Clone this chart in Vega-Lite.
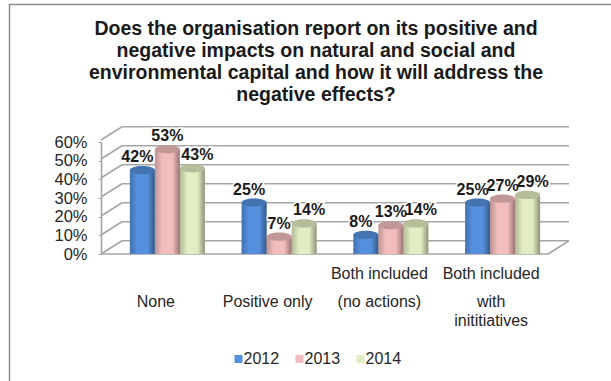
{
  "$schema": "https://vega.github.io/schema/vega-lite/v6.json",
  "width": 447,
  "height": 114,
  "autosize": "none",
  "padding": {"left": 111.5, "top": 140, "right": 52.5, "bottom": 127},
  "background": "white",
  "title": {
    "text": ["Does the organisation report on its positive and", "negative impacts on natural and social and", "environmental capital and how it will address the", "negative effects?"],
    "font": "Liberation Sans", "fontSize": 19.5, "fontWeight": "bold", "color": "#1a1a1a",
    "lineHeight": 22, "anchor": "middle", "frame": "group", "dx": -19, "offset": -121, "baseline": "bottom"
  },
  "datasets": {
    "results": [
      {"category": "None", "year": "2012", "share": 0.42},
      {"category": "None", "year": "2013", "share": 0.53},
      {"category": "None", "year": "2014", "share": 0.43},
      {"category": "Positive only", "year": "2012", "share": 0.25},
      {"category": "Positive only", "year": "2013", "share": 0.07},
      {"category": "Positive only", "year": "2014", "share": 0.14},
      {"category": "Both included (no actions)", "year": "2012", "share": 0.08},
      {"category": "Both included (no actions)", "year": "2013", "share": 0.13},
      {"category": "Both included (no actions)", "year": "2014", "share": 0.14},
      {"category": "Both included with inititiatives", "year": "2012", "share": 0.25},
      {"category": "Both included with inititiatives", "year": "2013", "share": 0.27},
      {"category": "Both included with inititiatives", "year": "2014", "share": 0.29}
    ],
    "captions": [
      {"category": "Both included (no actions)", "line": "Both included", "row": "upper"},
      {"category": "Both included with inititiatives", "line": "Both included", "row": "upper"},
      {"category": "None", "line": "None", "row": "middle"},
      {"category": "Positive only", "line": "Positive only", "row": "middle"},
      {"category": "Both included (no actions)", "line": "(no actions)", "row": "middle"},
      {"category": "Both included with inititiatives", "line": "with", "row": "middle"},
      {"category": "Both included with inititiatives", "line": "inititiatives", "row": "lower"}
    ],
    "ticks": [{"tick": 0}, {"tick": 0.1}, {"tick": 0.2}, {"tick": 0.3}, {"tick": 0.4}, {"tick": 0.5}, {"tick": 0.6}]
  },
  "resolve": {"scale": {"x": "independent", "y": "independent"}},
  "layer": [
    {
      "data": {"values": [{"edge": "top"}]},
      "layer": [
        {
          "mark": {"type": "rule", "color": "#8c8c8c", "strokeWidth": 1.5},
          "encoding": {"x": {"value": -102}, "x2": {"value": -102}, "y": {"value": -136}, "y2": {"value": 241}}
        },
        {
          "mark": {"type": "rule", "color": "#8c8c8c", "strokeWidth": 1.5},
          "encoding": {"x": {"value": -102}, "x2": {"value": 500}, "y": {"value": -135.5}, "y2": {"value": -135.5}}
        }
      ]
    },
    {
      "data": {"name": "ticks"},
      "encoding": {
        "y": {"field": "tick", "type": "quantitative", "scale": {"domain": [0, 0.6]}, "axis": null},
        "y2": {"field": "tick"}
      },
      "layer": [
        {
          "mark": {"type": "rule", "color": "#a6a6a6", "strokeWidth": 1.6, "xOffset": 10.5, "x2Offset": 10.5, "yOffset": -13.3, "y2Offset": -13.3},
          "encoding": {
            "x": {"datum": 0, "type": "quantitative", "scale": {"domain": [0, 1]}, "axis": null},
            "x2": {"datum": 1}
          }
        },
        {
          "mark": {"type": "rule", "color": "#a6a6a6", "strokeWidth": 1.6, "xOffset": -10.5, "x2Offset": 10.5, "y2Offset": -13.3},
          "encoding": {
            "x": {"datum": 0, "type": "quantitative"},
            "x2": {"datum": 0}
          }
        },
        {
          "transform": [{"filter": "datum.tick === 0"}],
          "mark": {"type": "rule", "color": "#a6a6a6", "strokeWidth": 1.6, "xOffset": -10.5, "x2Offset": -10.5},
          "encoding": {
            "x": {"datum": 0, "type": "quantitative"},
            "x2": {"datum": 1}
          }
        },
        {
          "transform": [{"filter": "datum.tick === 0"}],
          "mark": {"type": "rule", "color": "#a6a6a6", "strokeWidth": 1.6, "xOffset": -10.5, "x2Offset": 10.5, "y2Offset": -13.3},
          "encoding": {
            "x": {"datum": 1, "type": "quantitative"},
            "x2": {"datum": 1}
          }
        }
      ]
    },
    {
      "data": {"name": "ticks"},
      "mark": {"type": "rule", "opacity": 0},
      "encoding": {
        "y": {
          "field": "tick", "type": "quantitative",
          "scale": {"domain": [0, 0.6], "range": [114, 2]},
          "axis": {
            "orient": "left", "offset": 10.5, "values": [0, 0.1, 0.2, 0.3, 0.4, 0.5, 0.6], "format": ".0%",
            "title": null, "grid": false, "domainColor": "#a6a6a6", "domainWidth": 1.6, "tickColor": "#a6a6a6", "tickSize": 3,
            "labelFont": "Liberation Sans", "labelFontSize": 16.5, "labelColor": "#262626", "labelPadding": 11
          }
        }
      }
    },
    {
      "data": {"name": "results"},
      "encoding": {
        "x": {
          "field": "category", "type": "nominal", "sort": null,
          "scale": {"domain": ["None", "Positive only", "Both included (no actions)", "Both included with inititiatives"], "paddingInner": 0.329, "paddingOuter": 0.1645},
          "axis": null
        },
        "xOffset": {"field": "year", "type": "nominal", "scale": {"paddingInner": 0, "paddingOuter": 0}}
      },
      "layer": [
        {
          "mark": {"type": "point", "shape": "M-1,0A1,0.33,0,1,0,1,0A1,0.33,0,1,0,-1,0Z", "filled": true, "opacity": 1, "size": 625, "yOffset": -4},
          "encoding": {
            "y": {"datum": 0, "type": "quantitative", "scale": {"domain": [0, 0.6]}, "axis": null},
            "color": {"field": "year", "type": "nominal"}
          }
        },
        {
          "mark": {"type": "point", "shape": "M-1,0A1,0.33,0,1,0,1,0A1,0.33,0,1,0,-1,0Z", "filled": true, "opacity": 1, "size": 625, "yOffset": -4,
            "color": {"x1": 0, "x2": 1, "y1": 0, "y2": 0, "gradient": "linear", "stops": [{"offset": 0, "color": "rgba(0,0,0,0.22)"}, {"offset": 0.3, "color": "rgba(0,0,0,0)"}, {"offset": 0.7, "color": "rgba(0,0,0,0)"}, {"offset": 1, "color": "rgba(0,0,0,0.38)"}]}},
          "encoding": {"y": {"datum": 0, "type": "quantitative"}}
        },
        {
          "mark": {"type": "bar", "yOffset": -4, "y2Offset": -4},
          "encoding": {
            "y": {"field": "share", "type": "quantitative", "stack": null},
            "color": {
              "field": "year", "type": "nominal",
              "scale": {"domain": ["2012", "2013", "2014"], "range": ["#5590de", "#f3bdbd", "#e3edc2"]},
              "legend": {
                "orient": "none", "legendX": 119, "legendY": 211, "direction": "horizontal", "title": null,
                "symbolType": "square", "symbolSize": 64, "symbolStrokeWidth": 0, "labelOffset": -3, "columnPadding": 12,
                "labelFont": "Liberation Sans", "labelFontSize": 16, "labelColor": "#262626"
              }
            }
          }
        },
        {
          "mark": {"type": "bar", "yOffset": -4, "y2Offset": -4,
            "color": {"x1": 0, "x2": 1, "y1": 0, "y2": 0, "gradient": "linear", "stops": [{"offset": 0, "color": "rgba(0,0,0,0.22)"}, {"offset": 0.3, "color": "rgba(0,0,0,0)"}, {"offset": 0.7, "color": "rgba(0,0,0,0)"}, {"offset": 1, "color": "rgba(0,0,0,0.38)"}]}},
          "encoding": {"y": {"field": "share", "type": "quantitative", "stack": null}}
        },
        {
          "mark": {"type": "point", "shape": "M-1,0A1,0.33,0,1,0,1,0A1,0.33,0,1,0,-1,0Z", "filled": true, "opacity": 1, "size": 625, "yOffset": -4},
          "encoding": {
            "y": {"field": "share", "type": "quantitative", "stack": null},
            "color": {"field": "year", "type": "nominal"}
          }
        },
        {
          "mark": {"type": "point", "shape": "M-1,0A1,0.33,0,1,0,1,0A1,0.33,0,1,0,-1,0Z", "filled": true, "size": 625, "yOffset": -4, "color": "#000000", "opacity": 0.2},
          "encoding": {"y": {"field": "share", "type": "quantitative", "stack": null}}
        },
        {
          "transform": [{"filter": "datum.year === '2012'"}],
          "mark": {"type": "text", "dy": -17, "dx": -5, "font": "Liberation Sans", "fontSize": 16, "fontWeight": "bold", "color": "#1a1a1a", "stroke": "white", "strokeWidth": 3},
          "encoding": {"y": {"field": "share", "type": "quantitative", "stack": null}, "text": {"field": "share", "format": ".0%"}}
        },
        {
          "transform": [{"filter": "datum.year === '2013'"}],
          "mark": {"type": "text", "dy": -17, "dx": 0, "font": "Liberation Sans", "fontSize": 16, "fontWeight": "bold", "color": "#1a1a1a", "stroke": "white", "strokeWidth": 3},
          "encoding": {"y": {"field": "share", "type": "quantitative", "stack": null}, "text": {"field": "share", "format": ".0%"}}
        },
        {
          "transform": [{"filter": "datum.year === '2014'"}],
          "mark": {"type": "text", "dy": -17, "dx": 5, "font": "Liberation Sans", "fontSize": 16, "fontWeight": "bold", "color": "#1a1a1a", "stroke": "white", "strokeWidth": 3},
          "encoding": {"y": {"field": "share", "type": "quantitative", "stack": null}, "text": {"field": "share", "format": ".0%"}}
        },
        {
          "transform": [{"filter": "datum.year === '2012'"}],
          "mark": {"type": "text", "dy": -17, "dx": -5, "font": "Liberation Sans", "fontSize": 16, "fontWeight": "bold", "color": "#1a1a1a"},
          "encoding": {"y": {"field": "share", "type": "quantitative", "stack": null}, "text": {"field": "share", "format": ".0%"}}
        },
        {
          "transform": [{"filter": "datum.year === '2013'"}],
          "mark": {"type": "text", "dy": -17, "dx": 0, "font": "Liberation Sans", "fontSize": 16, "fontWeight": "bold", "color": "#1a1a1a"},
          "encoding": {"y": {"field": "share", "type": "quantitative", "stack": null}, "text": {"field": "share", "format": ".0%"}}
        },
        {
          "transform": [{"filter": "datum.year === '2014'"}],
          "mark": {"type": "text", "dy": -17, "dx": 5, "font": "Liberation Sans", "fontSize": 16, "fontWeight": "bold", "color": "#1a1a1a"},
          "encoding": {"y": {"field": "share", "type": "quantitative", "stack": null}, "text": {"field": "share", "format": ".0%"}}
        },
        {
          "data": {"name": "captions"},
          "transform": [{"filter": "datum.row === 'upper'"}],
          "mark": {"type": "text", "dx": -11.5, "dy": 20, "font": "Liberation Sans", "fontSize": 16, "color": "#262626"},
          "encoding": {"xOffset": {"datum": "2013"}, "y": {"datum": 0, "type": "quantitative"}, "text": {"field": "line"}}
        },
        {
          "data": {"name": "captions"},
          "transform": [{"filter": "datum.row === 'middle'"}],
          "mark": {"type": "text", "dx": -11.5, "dy": 48, "font": "Liberation Sans", "fontSize": 16, "color": "#262626"},
          "encoding": {"xOffset": {"datum": "2013"}, "y": {"datum": 0, "type": "quantitative"}, "text": {"field": "line"}}
        },
        {
          "data": {"name": "captions"},
          "transform": [{"filter": "datum.row === 'lower'"}],
          "mark": {"type": "text", "dx": -11.5, "dy": 66.5, "font": "Liberation Sans", "fontSize": 16, "color": "#262626"},
          "encoding": {"xOffset": {"datum": "2013"}, "y": {"datum": 0, "type": "quantitative"}, "text": {"field": "line"}}
        }
      ]
    }
  ],
  "config": {"view": {"stroke": null}}
}
